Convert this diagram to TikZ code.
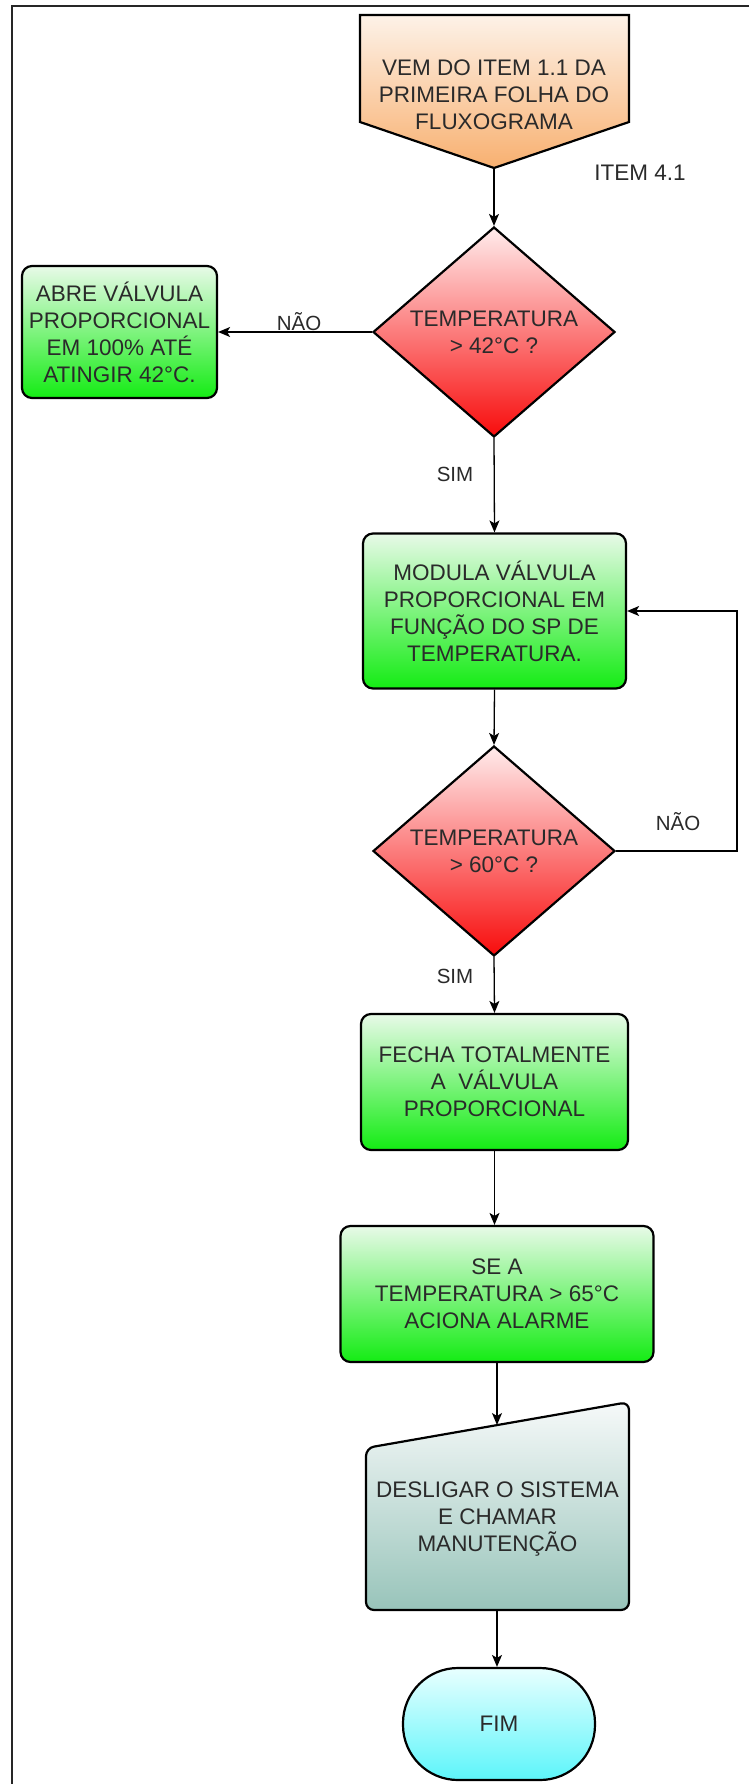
\documentclass[tikz,border=0pt]{standalone}
\usepackage{fontspec}
\setmainfont{Liberation Sans}
\usetikzlibrary{shapes.geometric,arrows.meta}

\definecolor{txt}{HTML}{2A2A2A}
\definecolor{greentop}{RGB}{232,250,232}
\definecolor{greenbot}{RGB}{20,236,20}
\definecolor{redtop}{RGB}{255,236,236}
\definecolor{redbot}{RGB}{248,12,12}
\definecolor{orangetop}{RGB}{253,242,232}
\definecolor{orangebot}{RGB}{248,176,112}
\definecolor{slatetop}{RGB}{246,249,249}
\definecolor{slatebot}{RGB}{152,196,186}
\definecolor{cyantop}{RGB}{232,255,255}
\definecolor{cyanbot}{RGB}{92,245,250}

\begin{document}
\begin{tikzpicture}[x=1pt,y=-1pt,
  boxtext/.style={font=\fontsize{22.5}{27}\selectfont, text=txt, align=center},
  lbl/.style={font=\fontsize{20.5}{24}\selectfont, text=txt},
  outline/.style={draw=black, line width=2.2pt},
  proc/.style={boxtext, outline, rounded corners=10pt, inner sep=0pt,
    top color=greentop, bottom color=greenbot},
  decision/.style={boxtext, outline, diamond, aspect=1.152,
    minimum width=242pt, minimum height=210pt, inner sep=0pt,
    top color=redtop, bottom color=redbot},
  flow/.style={draw=black, line width=1.3pt,
    -{Stealth[length=12pt,width=10pt,inset=3pt]}},
]
\useasboundingbox (0,0) rectangle (749,1784);

% page frame (top and left edges)
\draw[line width=1.6pt, black!85] (749,6) -- (12,6) -- (12,1784);

% off-page connector at the top
\shadedraw[outline, top color=orangetop, bottom color=orangebot]
  (360,15) -- (629,15) -- (629,122) -- (494,168) -- (360,122) -- cycle;
\node[boxtext] (start) at (494,95) {VEM DO ITEM 1.1 DA\\PRIMEIRA FOLHA DO\\FLUXOGRAMA};
\coordinate (starttip) at (494,168);
\node[lbl, font=\fontsize{22.5}{27}\selectfont] (item) at (640,173) {ITEM 4.1};

% first decision and its branches
\node[decision] (d1) at (494,332) {TEMPERATURA\\> 42°C ?};
\node[proc, minimum width=195pt, minimum height=132pt] (abre) at (119.5,332)
  {ABRE VÁLVULA\\PROPORCIONAL\\EM 100\% ATÉ\\ATINGIR 42°C.};

\node[proc, minimum width=263pt, minimum height=155pt] (mod) at (494.5,611)
  {MODULA VÁLVULA\\PROPORCIONAL EM\\FUNÇÃO DO SP DE\\TEMPERATURA.};

% second decision
\node[decision] (d2) at (494,851) {TEMPERATURA\\> 60°C ?};

\node[proc, minimum width=267pt, minimum height=136pt] (fecha) at (494.5,1082)
  {FECHA TOTALMENTE\\A\ \ VÁLVULA\\PROPORCIONAL};

\node[proc, minimum width=313pt, minimum height=136pt] (alarme) at (497,1294)
  {SE A\\TEMPERATURA > 65°C\\ACIONA ALARME};

% manual operation block with slanted top
\shadedraw[outline, rounded corners=8pt, top color=slatetop, bottom color=slatebot]
  (366,1448) -- (629,1402) -- (629,1610) -- (366,1610) -- cycle;
\node[boxtext] (desl) at (497.5,1519) {DESLIGAR O SISTEMA\\E CHAMAR\\MANUTENÇÃO};
\coordinate (desltop) at (497,1425);
\coordinate (deslbot) at (497,1610);

% terminator
\node[boxtext, outline, rounded corners=55pt, minimum width=192pt, minimum height=112pt,
  top color=cyantop, bottom color=cyanbot] (fim) at (499,1724) {FIM};

% connectors
\coordinate (loopx) at (737,0);
\draw[flow] (starttip) -- (d1.north);
\draw[flow] (d1.west) -- (abre.east);
\draw[flow] (d1.south) -- (mod.north);
\draw[flow] (mod.south) -- (d2.north);
\draw[flow] (d2.east) -- (d2.east -| loopx) |- (mod.east);
\draw[flow] (d2.south) -- (fecha.north);
\draw[flow] (fecha.south) -- (fecha.south |- alarme.north);
\draw[flow] (alarme.south) -- (desltop);
\draw[flow] (deslbot) -- (deslbot |- fim.north);

% branch labels
\node[lbl] (nao1) at (299,322) {NÃO};
\node[lbl] (sim1) at (455,474) {SIM};
\node[lbl] (nao2) at (678,822) {NÃO};
\node[lbl] (sim2) at (455,976) {SIM};
\end{tikzpicture}
\end{document}
